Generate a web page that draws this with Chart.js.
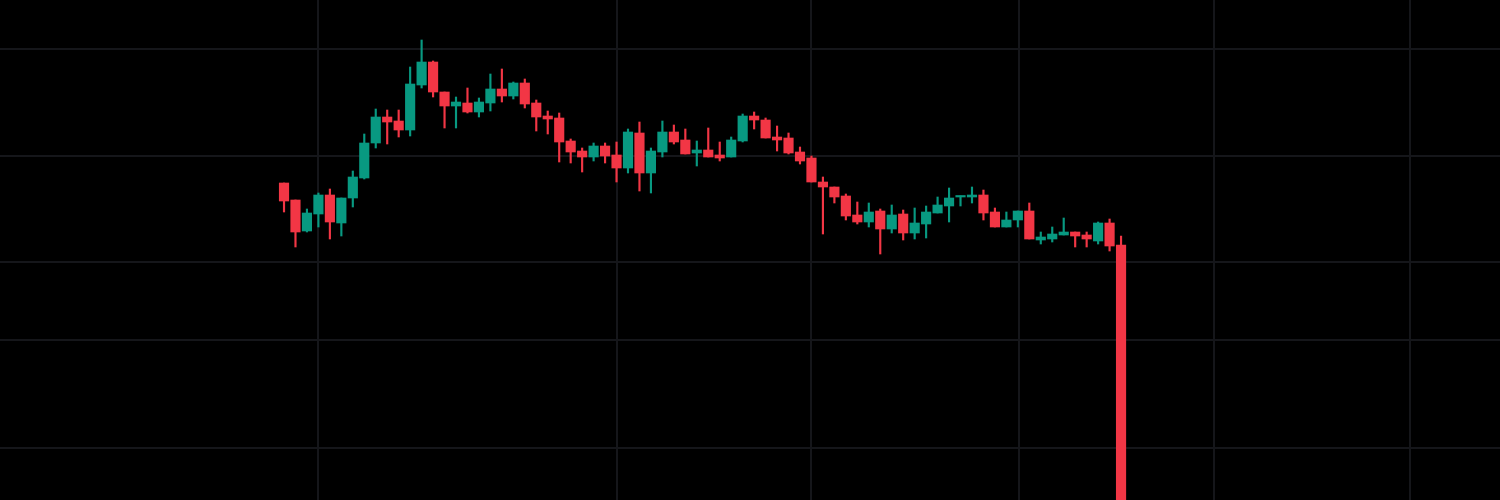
<!DOCTYPE html>
<html>
<head>
<meta charset="utf-8">
<script src="https://cdn.jsdelivr.net/npm/chart.js@4/dist/chart.umd.min.js"></script>
<style>
  html, body { margin: 0; padding: 0; background: #000; }
  #wrap { width: 1500px; height: 500px; }
</style>
</head>
<body>
<div id="wrap"><canvas id="chart"></canvas></div>
<script>
"use strict"

// candle values (price units, arbitrary scale)
const opens = [
  31.7, 30.0, 26.9, 28.6, 30.5, 27.7, 30.2, 32.2, 35.7, 38.3,
  37.9, 37.0, 41.5, 43.8, 40.8, 39.4, 39.7, 38.8, 39.7, 41.1,
  40.4, 41.7, 39.7, 38.4, 38.2, 35.9, 34.9, 34.3, 35.4, 34.5,
  33.2, 36.7, 32.7, 34.8, 36.8, 36.0, 34.7, 35.0, 34.5, 34.3,
  35.9, 38.4, 38.0, 36.3, 36.2, 34.8, 34.2, 31.8, 31.3, 30.4,
  28.5, 27.8, 28.9, 27.1, 28.6, 26.7, 27.6, 28.7, 29.4, 30.3,
  30.3, 30.5, 28.8, 27.3, 28.0, 28.9, 26.0, 26.1, 26.5, 26.8,
  26.5, 25.9, 27.7, 25.5
];
const highs = [
  31.7, 30.0, 29.1, 30.7, 31.1, 30.2, 32.9, 36.6, 39.1, 39.0,
  39.0, 43.3, 46.0, 43.9, 40.8, 40.3, 41.2, 40.2, 42.6, 43.1,
  41.8, 42.1, 40.0, 38.9, 38.7, 36.1, 35.2, 35.7, 35.7, 35.8,
  37.1, 37.8, 35.2, 37.9, 37.5, 37.1, 35.9, 37.2, 35.8, 36.3,
  38.6, 38.8, 38.2, 37.4, 36.7, 35.3, 34.4, 32.3, 31.3, 30.6,
  29.8, 29.7, 29.1, 29.5, 29.0, 29.2, 29.4, 30.3, 31.2, 30.4,
  31.3, 31.0, 29.2, 28.8, 28.9, 29.7, 26.8, 27.3, 28.2, 26.8,
  26.8, 27.8, 28.1, 26.4
];
const lows = [
  28.8, 25.3, 26.8, 27.3, 26.1, 26.4, 29.3, 32.1, 35.2, 35.6,
  36.3, 36.4, 41.2, 40.3, 37.2, 37.2, 38.7, 38.3, 38.9, 39.8,
  40.1, 39.2, 36.9, 36.6, 33.8, 33.7, 32.8, 33.9, 33.7, 31.8,
  32.7, 30.9, 30.7, 34.3, 35.6, 34.6, 33.4, 34.3, 33.9, 34.3,
  35.8, 37.1, 36.2, 34.9, 34.6, 33.6, 31.8, 26.6, 29.7, 28.0,
  27.6, 27.3, 24.6, 26.7, 26.0, 26.1, 26.2, 28.7, 27.8, 29.4,
  29.7, 28.0, 27.3, 27.3, 27.3, 26.1, 25.6, 25.8, 26.5, 25.3,
  25.3, 25.6, 24.9, -3
];
const closes = [
  29.9, 26.8, 28.7, 30.5, 27.8, 30.2, 32.3, 35.7, 38.3, 37.8,
  37.0, 41.6, 43.8, 40.8, 39.4, 39.8, 38.8, 39.8, 41.1, 40.4,
  41.7, 39.6, 38.3, 38.1, 35.8, 34.8, 34.3, 35.4, 34.4, 33.2,
  36.8, 32.7, 34.9, 36.8, 35.8, 34.6, 35.0, 34.3, 34.2, 36.0,
  38.4, 38.0, 36.2, 36.0, 34.7, 33.9, 31.8, 31.3, 30.3, 28.4,
  27.8, 28.8, 27.1, 28.5, 26.7, 27.7, 28.8, 29.5, 30.2, 30.4,
  30.5, 28.7, 27.3, 28.0, 28.9, 26.1, 26.3, 26.6, 26.8, 26.4,
  26.1, 27.7, 25.4, -3
];

// grid line positions (time index / price)
const timeGrid = [3, 29, 46, 64.1, 81.1, 98.2];
const priceGrid = [5.2, 16.0, 23.8, 34.4, 45.1];

const UP = "#089981";
const DOWN = "#f23645";
const GRID = "#15161a";

const colors = opens.map((o, i) => closes[i] >= o ? UP : DOWN);
const wicks = opens.map((o, i) => ({ x: i, y: [lows[i], highs[i]] }));
const bodies = opens.map((o, i) => ({ x: i, y: [o, closes[i]] }));

const config = {
  type: "bar",
  data: {
    datasets: [
      {
        label: "wick",
        data: wicks,
        backgroundColor: colors,
        barThickness: 1.5,
        grouped: false,
        order: 2
      },
      {
        label: "body",
        data: bodies,
        backgroundColor: colors,
        barThickness: 9.5,
        minBarLength: 1.5,
        grouped: false,
        order: 1
      }
    ]
  },
  options: {
    responsive: true,
    maintainAspectRatio: false,
    animation: false,
    layout: { padding: 0 },
    plugins: { legend: { display: false }, tooltip: { enabled: false } },
    scales: {
      x: {
        type: "linear",
        offset: false,
        min: -24.77,
        max: 106.05,
        afterBuildTicks: (axis) => { axis.ticks = timeGrid.map(v => ({ value: v })); },
        ticks: { display: false },
        grid: { color: GRID, lineWidth: 2, drawTicks: false, offset: false },
        border: { display: false }
      },
      y: {
        min: 0,
        max: 50,
        afterBuildTicks: (axis) => { axis.ticks = priceGrid.map(v => ({ value: v })); },
        ticks: { display: false },
        grid: { color: GRID, lineWidth: 2, drawTicks: false },
        border: { display: false }
      }
    }
  }
};

new Chart(document.getElementById("chart"), config);
</script>
</body>
</html>
